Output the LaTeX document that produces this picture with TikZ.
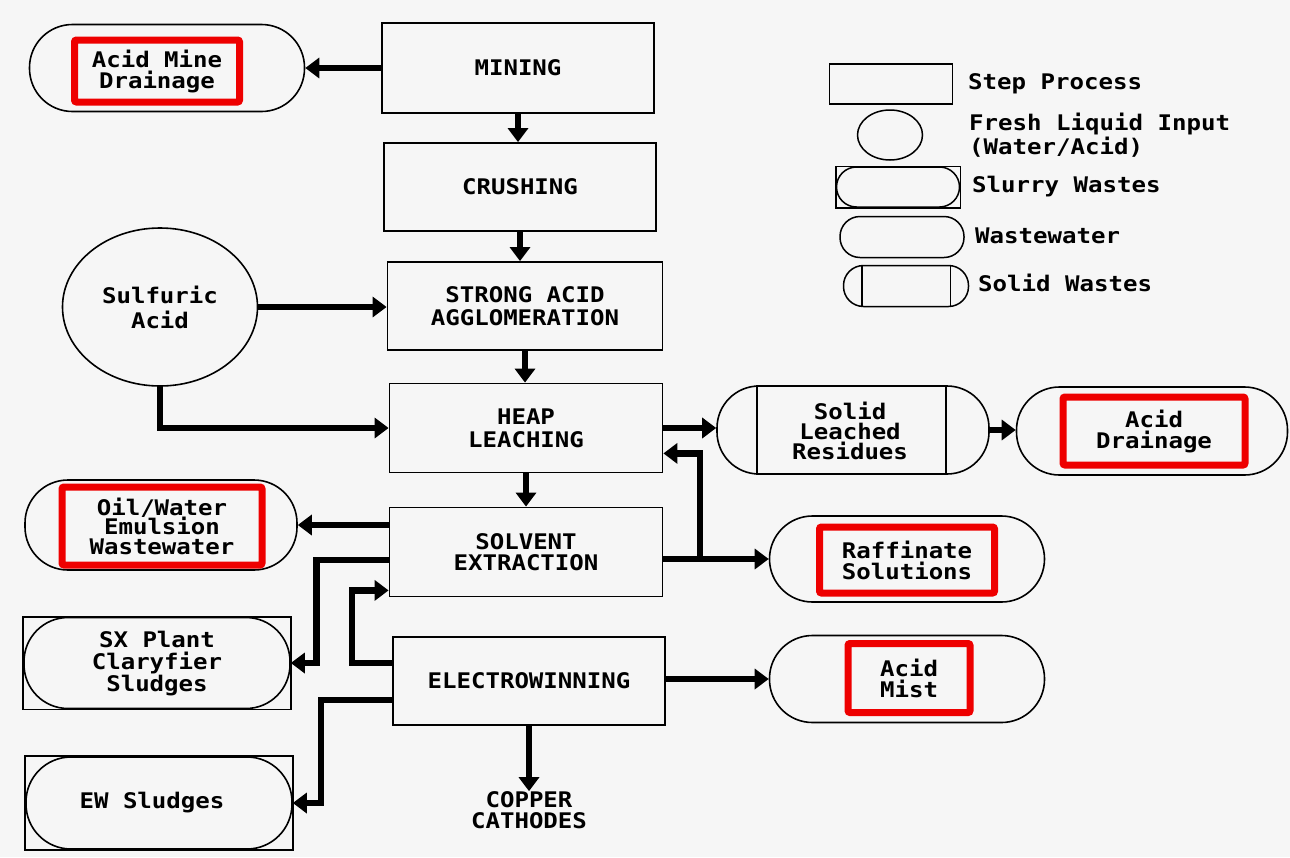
\documentclass[tikz,border=0pt]{standalone}
\usepackage{fontspec}
\newfontfamily\pxf[FakeStretch=1.12]{DejaVu Sans Mono}
\usetikzlibrary{arrows.meta,calc,shapes.geometric}
\definecolor{bg}{RGB}{246,246,246}
\definecolor{redbox}{RGB}{238,0,0}
\begin{document}
\begin{tikzpicture}[x=1pt,y=-1pt,
  txt/.style={font=\pxf\bfseries\fontsize{21.5}{21}\selectfont, align=center, text=black, inner sep=0pt},
  stepbox/.style={txt, draw, line width=1.8pt},
  ww/.style={draw, line width=1.6pt, rounded corners=43pt, inner sep=0pt},
  wws/.style={draw, line width=1.5pt, rounded corners=20pt, inner sep=0pt},
  redb/.style={txt, draw=redbox, line width=7pt, rounded corners=2pt},
  conn/.style={line width=6.5pt, -{Triangle[length=14pt,width=20pt]}},
  lgtxt/.style={txt, anchor=west, align=left}
]
\fill[bg] (0,0) rectangle (1290,857);
\useasboundingbox (0,0) rectangle (1290,857);

% ---------- main process boxes ----------
\node[stepbox, minimum width=272pt, minimum height=90pt] (mining) at (518,68) {MINING};
\node[stepbox, minimum width=272pt, minimum height=88pt] (crush) at (520,187) {CRUSHING};
\node[stepbox, minimum width=275pt, minimum height=88pt, font=\pxf\bfseries\fontsize{21.5}{23}\selectfont] (strong) at (525,306) {STRONG ACID\\AGGLOMERATION};
\node[stepbox, minimum width=273pt, minimum height=89pt, font=\pxf\bfseries\fontsize{21.5}{23}\selectfont] (heap) at (526,428) {HEAP\\LEACHING};
\node[stepbox, minimum width=273pt, minimum height=89pt] (solv) at (526,552) {SOLVENT\\EXTRACTION};
\node[stepbox, minimum width=272pt, minimum height=88pt] (elec) at (529,681) {ELECTROWINNING};
\node[txt] (copper) at (529,810) {COPPER\\CATHODES};

% ---------- inputs ----------
\node[txt, draw, line width=1.6pt, ellipse, minimum width=195pt, minimum height=158pt, font=\pxf\bfseries\fontsize{21.5}{25}\selectfont] (sulf) at (160,307) {Sulfuric\\Acid};

% ---------- wastewater (stadium) nodes ----------
\node[ww, minimum width=275pt, minimum height=87pt] (amd) at (167,68) {};
\node[redb, minimum width=165pt, minimum height=62pt] (amdr) at (157,71) {Acid Mine\\Drainage};

\node[ww, minimum width=272pt, minimum height=90pt] (oil) at (161,525) {};
\node[redb, minimum width=200pt, minimum height=78pt, font=\pxf\bfseries\fontsize{21.5}{19.5}\selectfont] (oilr) at (162,526) {Oil/Water\\Emulsion\\Wastewater};

\node[ww, minimum width=271pt, minimum height=88pt] (ad) at (1152,431) {};
\node[redb, minimum width=182pt, minimum height=68pt] (adr) at (1154,431) {Acid\\Drainage};

\node[ww, minimum width=275pt, minimum height=86pt] (raff) at (907,559) {};
\node[redb, minimum width=175pt, minimum height=66pt] (raffr) at (907,560) {Raffinate\\Solutions};

\node[ww, minimum width=275pt, minimum height=87pt] (mist) at (907,679) {};
\node[redb, minimum width=122pt, minimum height=69pt] (mistr) at (909,678) {Acid\\Mist};

% ---------- solid waste ----------
\node[ww, minimum width=272pt, minimum height=88pt, rounded corners=42pt] (slr) at (853,430) {};
\draw[line width=1.6pt] ([xshift=41pt]slr.north west) -- ([xshift=41pt]slr.south west);
\draw[line width=1.6pt] ([xshift=-44pt]slr.north east) -- ([xshift=-44pt]slr.south east);
\node[txt, font=\pxf\bfseries\fontsize{21.5}{20}\selectfont] (slrt) at (850,431) {Solid\\Leached\\Residues};

% ---------- slurry wastes ----------
\node[ww, minimum width=266pt, minimum height=91pt, rounded corners=44pt] (sx) at (157,663) {};
\draw[line width=1.6pt] (sx.south west) rectangle (sx.north east);
\node[txt, font=\pxf\bfseries\fontsize{21.5}{22}\selectfont] (sxt) at (157,664) {SX Plant\\Claryfier\\Sludges};

\node[ww, minimum width=266pt, minimum height=92pt, rounded corners=45pt] (ew) at (159,803) {};
\draw[line width=1.6pt] (ew.south west) rectangle (ew.north east);
\node[txt] (ewt) at (152,803) {EW Sludges};

% ---------- legend ----------
\node[draw, line width=1.5pt, minimum width=123pt, minimum height=40pt, inner sep=0pt] (lg1) at (891,84) {};
\node[lgtxt] (lg1t) at (968,84) {Step Process};
\node[draw, line width=1.5pt, ellipse, minimum width=65pt, minimum height=50pt, inner sep=0pt] (lg2) at (890,135) {};
\node[lgtxt, font=\pxf\bfseries\fontsize{21.5}{24}\selectfont] (lg2t) at (969,135) {Fresh Liquid Input\\(Water/Acid)};
\node[wws, minimum width=123pt, minimum height=40pt] (lg3) at (898,187) {};
\draw[line width=1.5pt] (lg3.south west) rectangle (lg3.north east);
\node[lgtxt] (lg3t) at (972,187) {Slurry Wastes};
\node[wws, minimum width=124pt, minimum height=41pt] (lg4) at (902,237) {};
\node[lgtxt] (lg4t) at (975,236) {Wastewater};
\node[wws, minimum width=125pt, minimum height=41pt] (lg5) at (906,286) {};
\draw[line width=1.5pt] ([xshift=19pt]lg5.north west) -- ([xshift=19pt]lg5.south west);
\draw[line width=1.5pt] ([xshift=-19pt]lg5.north east) -- ([xshift=-19pt]lg5.south east);
\node[lgtxt] (lg5t) at (978,283) {Solid Wastes};

% ---------- connectors ----------
\draw[conn] (mining.west) -- (amd.east);
\draw[conn] (mining.south) -- (mining.south |- crush.north);
\draw[conn] (crush.south) -- (crush.south |- strong.north);
\draw[conn] (sulf.east) -- (sulf.east -| strong.west);
\draw[conn] (sulf.south) |- (heap.west);
\draw[conn] (strong.south) -- (strong.south |- heap.north);
\draw[conn] (heap.east) -- (heap.east -| slr.west);
\draw[conn] (slr.east) -- (slr.east -| ad.west);
\draw[conn] (heap.south) -- (heap.south |- solv.north);
\draw[conn] (solv.east |- raff.west) -- (raff.west);
\coordinate (jn) at (700,559);
\draw[conn] (jn) |- ($(heap.south east)+(0,-20)$);
\draw[conn] (solv.west |- oil.east) -- (oil.east);
\draw[conn] ($(solv.west)+(0,8)$) -- ++(-72,0) |- (sx.east);
\draw[conn] ($(elec.west)+(0,-18)$) -- ++(-40,0) |- ($(solv.south west)+(0,-7)$);
\draw[conn] ($(elec.west)+(0,19)$) -- ++(-71,0) |- (ew.east);
\draw[conn] (elec.east |- mist.west) -- (mist.west);
\draw[conn] (elec.south) -- (elec.south |- copper.north);
\end{tikzpicture}
\end{document}
